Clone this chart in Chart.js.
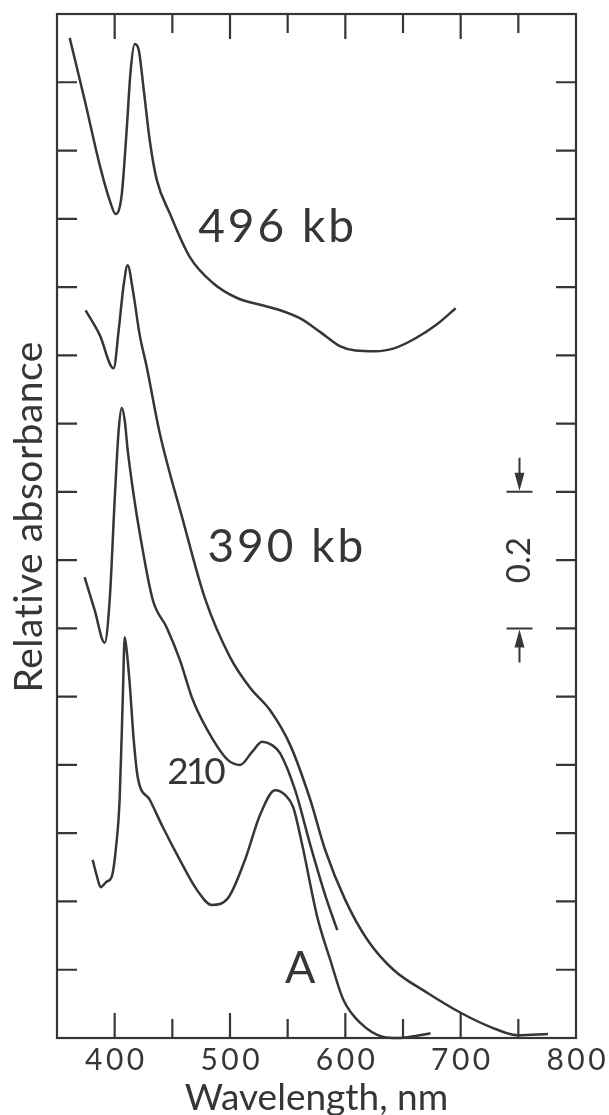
<!DOCTYPE html>
<html>
<head>
<meta charset="utf-8">
<script src="https://cdn.jsdelivr.net/npm/chart.js@4.4.1/dist/chart.umd.min.js"></script>
<style>
  html, body { margin: 0; padding: 0; background: #fff; }
  #wrap { width: 609px; height: 1115px; }
</style>
</head>
<body>
<div id="wrap"><canvas id="absChart" width="609" height="1115"></canvas></div>
<script>
// ========== DATA (wavelength nm / relative absorbance) ==========
const wl496 = [361, 374, 387, 395.7, 400.9, 406.1, 410.4, 413.9, 417.4, 420.9, 425.2, 430.4, 436.5, 447.8, 465.2, 485.2, 506.1, 526.1, 543.5, 560.9, 578.3, 595.7, 608.7, 626.1, 643.5, 660.9, 678.3, 695.7];
const abs496 = [1.465, 1.374, 1.279, 1.227, 1.207, 1.235, 1.33, 1.418, 1.456, 1.447, 1.389, 1.315, 1.257, 1.208, 1.144, 1.106, 1.084, 1.074, 1.066, 1.054, 1.034, 1.013, 1.007, 1.006, 1.011, 1.025, 1.044, 1.069];

const wl390 = [374.8, 387, 399.1, 403.5, 407.8, 411.3, 415.7, 421.7, 427.8, 439.1, 459.1, 478.3, 500, 517.4, 534.8, 552.2, 569.6, 582.6, 600, 619.1, 641.7, 671.3, 700, 726.1, 749.6, 775.7];
const abs390 = [1.066, 1.03, 0.981, 1.037, 1.103, 1.132, 1.096, 1.03, 0.983, 0.886, 0.759, 0.644, 0.558, 0.513, 0.48, 0.429, 0.349, 0.275, 0.202, 0.144, 0.1, 0.066, 0.037, 0.016, 0.004, 0.006];

const wl210 = [373.9, 382.6, 391.3, 395.7, 400, 403.5, 406.1, 408.7, 411.3, 416.5, 421.7, 433, 445.2, 456.5, 467.8, 485.2, 498.3, 508.7, 519.1, 527.8, 536.5, 543.5, 556.5, 569.6, 582.6, 593];
const abs210 = [0.675, 0.627, 0.579, 0.642, 0.788, 0.891, 0.923, 0.905, 0.861, 0.795, 0.74, 0.642, 0.601, 0.554, 0.495, 0.437, 0.407, 0.4, 0.419, 0.434, 0.429, 0.417, 0.363, 0.283, 0.209, 0.158];

const wlA = [380.9, 384.3, 387.8, 393, 397.4, 400.9, 404.3, 407, 408.7, 410.4, 413, 416.5, 420, 430.4, 441.7, 456.5, 471.3, 484.3, 498.3, 513, 526.1, 539.1, 547.8, 554.8, 562.6, 575.7, 587, 598.3, 613, 633, 645.2, 660.9, 673.9];
const absA = [0.261, 0.239, 0.221, 0.229, 0.236, 0.275, 0.349, 0.495, 0.587, 0.568, 0.52, 0.437, 0.382, 0.349, 0.309, 0.261, 0.217, 0.195, 0.205, 0.261, 0.327, 0.363, 0.356, 0.338, 0.283, 0.177, 0.114, 0.056, 0.022, 0.0015, 0, 0.003, 0.007];

const curveNames = ["496 kb", "390 kb", "210", "A"];
const xTickLabels = [400, 500, 600, 700, 800];
const xTickMarks = [400, 450, 500, 550, 600, 650, 700, 750];
const yTickMarks = [0.1, 0.2, 0.3, 0.4, 0.5, 0.6, 0.7, 0.8, 0.9, 1.0, 1.1, 1.2, 1.3, 1.4];
const scaleBar = [0.6, 0.8]; // the "0.2" bar on the right

const INK = "#363636";
const FONT = "Lato, 'DejaVu Sans', sans-serif";

function toPoints(xs, ys) {
  return xs.map((x, i) => ({ x: x, y: ys[i] }));
}

function spacedText(ctx, text, x, y, spacing) {
  ctx.letterSpacing = spacing + "px";
  ctx.fillText(text, x + spacing / 2, y);
  ctx.letterSpacing = "0px";
}

// ========== FRAME, TICKS AND TEXT ==========
const decorPlugin = {
  id: "decor",
  afterDraw(chart) {
    const ctx = chart.ctx;
    const a = chart.chartArea;
    const xs = chart.scales.x;
    const ys = chart.scales.y;
    ctx.save();
    ctx.strokeStyle = INK;
    ctx.fillStyle = INK;
    ctx.lineWidth = 2.2;
    ctx.strokeRect(a.left, a.top, a.right - a.left, a.bottom - a.top);

    // x ticks, inward top and bottom
    xTickMarks.forEach((v) => {
      const px = xs.getPixelForValue(v);
      const len = v % 100 === 0 ? 25 : 19;
      ctx.beginPath();
      ctx.moveTo(px, a.bottom);
      ctx.lineTo(px, a.bottom - len);
      ctx.moveTo(px, a.top);
      ctx.lineTo(px, a.top + len);
      ctx.stroke();
    });
    // y ticks, inward left and right
    yTickMarks.forEach((v) => {
      const py = ys.getPixelForValue(v);
      ctx.beginPath();
      ctx.moveTo(a.left, py);
      ctx.lineTo(a.left + 20, py);
      ctx.moveTo(a.right, py);
      ctx.lineTo(a.right - 20, py);
      ctx.stroke();
    });

    ctx.textAlign = "center";
    ctx.textBaseline = "middle";

    // tick labels
    ctx.font = "30px " + FONT;
    xTickLabels.forEach((v) => {
      spacedText(ctx, String(v), xs.getPixelForValue(v), a.bottom + 22, 3.5);
    });

    // axis titles
    ctx.font = "37px " + FONT;
    ctx.fillText("Wavelength, nm", (a.left + a.right) / 2, a.bottom + 60);
    ctx.save();
    ctx.translate(29, 517);
    ctx.rotate(-Math.PI / 2);
    ctx.font = "39px " + FONT;
    spacedText(ctx, "Relative absorbance", 0, 0, 0.5);
    ctx.restore();

    // curve labels
    ctx.font = "46px " + FONT;
    spacedText(ctx, curveNames[0], xs.getPixelForValue(540), ys.getPixelForValue(1.188), 3);
    spacedText(ctx, curveNames[1], xs.getPixelForValue(548), ys.getPixelForValue(0.719), 3);
    ctx.font = "37px " + FONT;
    spacedText(ctx, curveNames[2], xs.getPixelForValue(471), ys.getPixelForValue(0.39), -3);
    ctx.font = "45px " + FONT;
    ctx.fillText(curveNames[3], xs.getPixelForValue(561), ys.getPixelForValue(0.1025));

    // scale bar
    const bx = xs.getPixelForValue(751);
    const yTop = ys.getPixelForValue(scaleBar[1]);
    const yBot = ys.getPixelForValue(scaleBar[0]);
    ctx.lineWidth = 2;
    ctx.beginPath();
    ctx.moveTo(bx - 13, yTop);
    ctx.lineTo(bx + 13, yTop);
    ctx.moveTo(bx - 13, yBot);
    ctx.lineTo(bx + 13, yBot);
    ctx.moveTo(bx, yTop - 34);
    ctx.lineTo(bx, yTop - 16);
    ctx.moveTo(bx, yBot + 16);
    ctx.lineTo(bx, yBot + 34);
    ctx.stroke();
    ctx.beginPath();
    ctx.moveTo(bx - 5, yTop - 19);
    ctx.lineTo(bx + 5, yTop - 19);
    ctx.lineTo(bx, yTop - 1);
    ctx.closePath();
    ctx.moveTo(bx - 5, yBot + 19);
    ctx.lineTo(bx + 5, yBot + 19);
    ctx.lineTo(bx, yBot + 1);
    ctx.closePath();
    ctx.fill();
    ctx.font = "33px " + FONT;
    ctx.save();
    ctx.translate(bx, (yTop + yBot) / 2);
    ctx.rotate(-Math.PI / 2);
    ctx.fillText("0.2", 0, 0);
    ctx.restore();

    ctx.restore();
  },
};

// ========== CHART ==========
function makeSet(xs, ys) {
  return {
    data: toPoints(xs, ys),
    showLine: true,
    borderColor: INK,
    borderWidth: 2.5,
    pointRadius: 0,
    cubicInterpolationMode: "monotone",
    clip: false,
  };
}

new Chart(document.getElementById("absChart"), {
  type: "scatter",
  data: {
    datasets: [
      makeSet(wl496, abs496),
      makeSet(wl390, abs390),
      makeSet(wl210, abs210),
      makeSet(wlA, absA),
    ],
  },
  options: {
    responsive: false,
    animation: false,
    devicePixelRatio: 1,
    layout: { padding: { left: 57, right: 33, top: 14, bottom: 77 } },
    plugins: { legend: { display: false }, tooltip: { enabled: false } },
    scales: {
      x: { type: "linear", min: 350, max: 800, display: false },
      y: { type: "linear", min: 0, max: 1.5, display: false },
    },
  },
  plugins: [decorPlugin],
});
</script>
</body>
</html>
